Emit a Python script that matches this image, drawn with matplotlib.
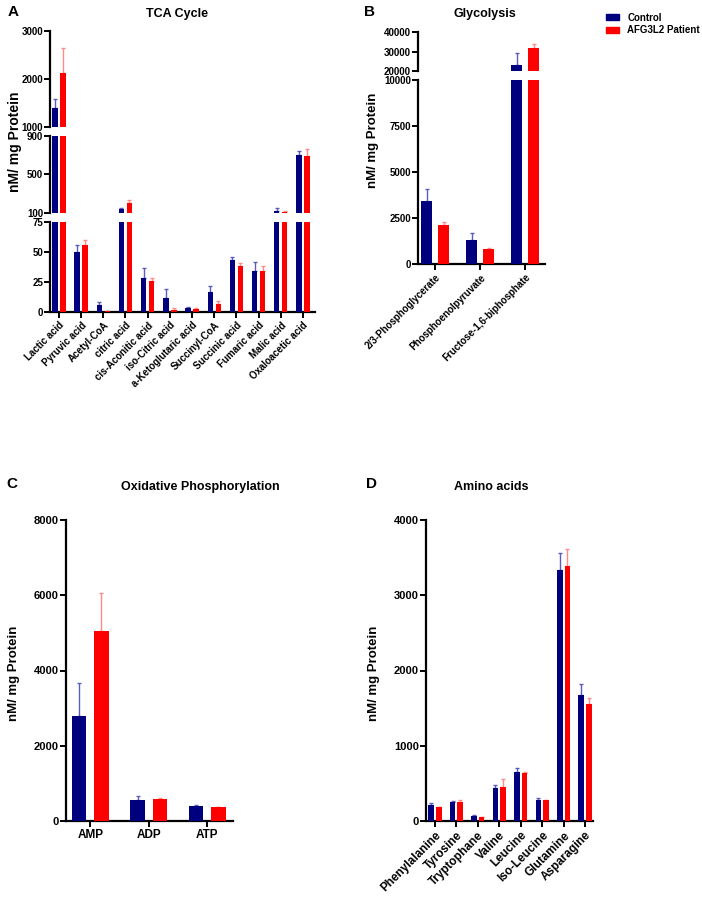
import numpy as np
import matplotlib
matplotlib.use("Agg")
import matplotlib.pyplot as plt
from matplotlib.patches import Patch

plt.rcParams['font.family'] = ['Liberation Sans', 'DejaVu Sans']
plt.rcParams['font.weight'] = 'bold'

# ---------------- data ----------------
tca_labels = ["Lactic acid", "Pyruvic acid", "Acetyl-CoA", "citric acid", "cis-Aconitic acid",
              "iso-Citric acid", "a-Ketoglutaric acid", "Succinyl-CoA", "Succinic acid",
              "Fumaric acid", "Malic acid", "Oxaloacetic acid"]
tca_ctrl = [1396, 50, 6, 138, 28, 12, 3, 16.5, 43, 34, 118, 700]
tca_ctrl_sd = [187, 6, 2, 11, 9, 7.5, 1, 5.5, 3, 7.5, 37, 45]
tca_pat = [2119, 56, 0.5, 204, 25.5, 2, 2.5, 7, 38, 34.5, 110, 693]
tca_pat_sd = [534, 4, 0.3, 28, 2.5, 1.5, 0.5, 2, 2.5, 3.5, 8, 76]

gly_labels = ["2/3-Phosphoglycerate", "Phosphoenolpyruvate", "Fructose-1,6-biphosphate"]
gly_ctrl = [3440, 1304, 22940]
gly_ctrl_sd = [636, 364, 6490]
gly_pat = [2103, 815, 32000]
gly_pat_sd = [163, 38, 2070]

ox_labels = ["AMP", "ADP", "ATP"]
ox_ctrl = [2800, 558, 400]
ox_ctrl_sd = [868, 98, 20]
ox_pat = [5058, 593, 364]
ox_pat_sd = [1010, 17, 16]

aa_labels = ["Phenylalanine", "Tyrosine", "Tryptophane", "Valine", "Leucine",
             "Iso-Leucine", "Glutamine", "Asparagine"]
aa_ctrl = [217, 257, 66, 439, 651, 279, 3335, 1670]
aa_ctrl_sd = [22, 13, 9, 40, 49, 21, 226, 151]
aa_pat = [182, 248, 53, 452, 638, 279, 3389, 1551]
aa_pat_sd = [8, 36, 5, 106, 7, 6, 225, 83]

C_CTRL = "#00007f"
C_PAT = "#ff0000"
E_CTRL = "#5c5cc0"
E_PAT = "#ff8a8a"

W, H = 702, 916
fig = plt.figure(figsize=(W / 100, H / 100), dpi=100)


def add_ax(x0, x1, y0, y1):
    return fig.add_axes([x0 / W, 1 - y1 / H, (x1 - x0) / W, (y1 - y0) / H])


def style(ax, bottom=True, fs=7):
    for s in ['top', 'right']:
        ax.spines[s].set_visible(False)
    ax.spines['left'].set_linewidth(1.6)
    ax.spines['bottom'].set_linewidth(1.6)
    ax.tick_params(axis='y', direction='out', length=4, width=1.4, labelsize=fs, pad=1)
    ax.tick_params(axis='x', direction='out', length=4, width=1.4, labelsize=fs, pad=2)
    if not bottom:
        ax.spines['bottom'].set_visible(False)
        ax.tick_params(axis='x', bottom=False, labelbottom=False)
    for lab in ax.get_yticklabels() + ax.get_xticklabels():
        lab.set_fontweight('bold')


def draw(ax, ctrl, csd, pat, psd, width, off):
    x = np.arange(len(ctrl))
    ax.bar(x - off, ctrl, width, color=C_CTRL, zorder=3)
    ax.bar(x + off, pat, width, color=C_PAT, zorder=3)
    ax.errorbar(x - off, ctrl, yerr=[np.zeros(len(ctrl)), csd], fmt='none',
                ecolor=E_CTRL, elinewidth=1.0, capsize=1.5, capthick=1.0, zorder=2)
    ax.errorbar(x + off, pat, yerr=[np.zeros(len(pat)), psd], fmt='none',
                ecolor=E_PAT, elinewidth=1.0, capsize=1.5, capthick=1.0, zorder=2)


# ---------------- Panel A ----------------
a_segs = [((31, 127), (1000, 3000), [1000, 2000, 3000]),
          ((136, 213), (100, 900), [100, 500, 900]),
          ((222, 312), (0, 75), [0, 25, 50, 75])]
for i, ((y0, y1), lim, ticks) in enumerate(a_segs):
    ax = add_ax(50, 315, y0, y1)
    draw(ax, tca_ctrl, tca_ctrl_sd, tca_pat, tca_pat_sd, 0.24, 0.18)
    ax.set_ylim(*lim)
    ax.set_yticks(ticks)
    ax.set_xlim(-0.4, len(tca_labels) - 0.46)
    ax.set_xticks(np.arange(len(tca_labels)))
    last = (i == 2)
    if last:
        ax.set_xticklabels(tca_labels, rotation=45, ha='right', rotation_mode='anchor')
    style(ax, bottom=last, fs=7)
fig.text(15 / W, 1 - 142 / H, "nM/ mg Protein", rotation=90, ha='center', va='center',
         fontsize=10, fontweight='bold')
fig.text(177 / W, 1 - 14 / H, "TCA Cycle", ha='center', va='center', fontsize=9, fontweight='bold')
fig.text(8 / W, 1 - 12 / H, "A", ha='left', va='center', fontsize=11, fontweight='bold')

# ---------------- Panel B ----------------
b_segs = [((32.3, 71), (20000, 40000), [20000, 30000, 40000]),
          ((80.3, 264), (0, 10000), [0, 2500, 5000, 7500, 10000])]
for i, ((y0, y1), lim, ticks) in enumerate(b_segs):
    ax = add_ax(418, 545, y0, y1)
    draw(ax, gly_ctrl, gly_ctrl_sd, gly_pat, gly_pat_sd, 0.25, 0.19)
    ax.set_ylim(*lim)
    ax.set_yticks(ticks)
    ax.set_xlim(-0.38, len(gly_labels) - 0.56)
    ax.set_xticks(np.arange(len(gly_labels)))
    last = (i == 1)
    if last:
        ax.set_xticklabels(gly_labels, rotation=45, ha='right', rotation_mode='anchor')
    style(ax, bottom=last, fs=7)
fig.text(373 / W, 1 - 140 / H, "nM/ mg Protein", rotation=90, ha='center', va='center',
         fontsize=9.5, fontweight='bold')
fig.text(485 / W, 1 - 14 / H, "Glycolysis", ha='center', va='center', fontsize=9, fontweight='bold')
fig.text(364 / W, 1 - 12 / H, "B", ha='left', va='center', fontsize=11, fontweight='bold')

fig.legend(handles=[Patch(color=C_CTRL, label="Control"), Patch(color=C_PAT, label="AFG3L2 Patient")],
           loc='upper left', bbox_to_anchor=(597 / W, 1 - 4 / H), frameon=False,
           fontsize=7, handlelength=1.4, handleheight=0.55, handletextpad=0.8,
           labelspacing=0.25, prop={'weight': 'bold', 'size': 7})

# ---------------- Panel C ----------------
ax = add_ax(65.7, 233, 520, 821)
draw(ax, ox_ctrl, ox_ctrl_sd, ox_pat, ox_pat_sd, 0.25, 0.19)
ax.set_ylim(0, 8000)
ax.set_yticks([0, 2000, 4000, 6000, 8000])
ax.set_xlim(-0.42, len(ox_labels) - 0.56)
ax.set_xticks(np.arange(len(ox_labels)))
ax.set_xticklabels(ox_labels)
style(ax, fs=8)
ax.tick_params(axis='x', labelsize=8.5)
fig.text(14 / W, 1 - 673 / H, "nM/ mg Protein", rotation=90, ha='center', va='center',
         fontsize=9.5, fontweight='bold')
fig.text(200 / W, 1 - 487 / H, "Oxidative Phosphorylation", ha='center', va='center',
         fontsize=9, fontweight='bold')
fig.text(6 / W, 1 - 484 / H, "C", ha='left', va='center', fontsize=11, fontweight='bold')

# ---------------- Panel D ----------------
ax = add_ax(425.7, 593, 520, 821)
draw(ax, aa_ctrl, aa_ctrl_sd, aa_pat, aa_pat_sd, 0.26, 0.18)
ax.set_ylim(0, 4000)
ax.set_yticks([0, 1000, 2000, 3000, 4000])
ax.set_xlim(-0.43, len(aa_labels) - 0.63)
ax.set_xticks(np.arange(len(aa_labels)))
ax.set_xticklabels(aa_labels, rotation=45, ha='right', rotation_mode='anchor')
style(ax, fs=8)
ax.tick_params(axis='x', labelsize=8.5)
fig.text(374 / W, 1 - 673 / H, "nM/ mg Protein", rotation=90, ha='center', va='center',
         fontsize=9.5, fontweight='bold')
fig.text(491 / W, 1 - 487 / H, "Amino acids", ha='center', va='center', fontsize=9, fontweight='bold')
fig.text(366 / W, 1 - 484 / H, "D", ha='left', va='center', fontsize=11, fontweight='bold')

fig.savefig("out.png", dpi=100)
